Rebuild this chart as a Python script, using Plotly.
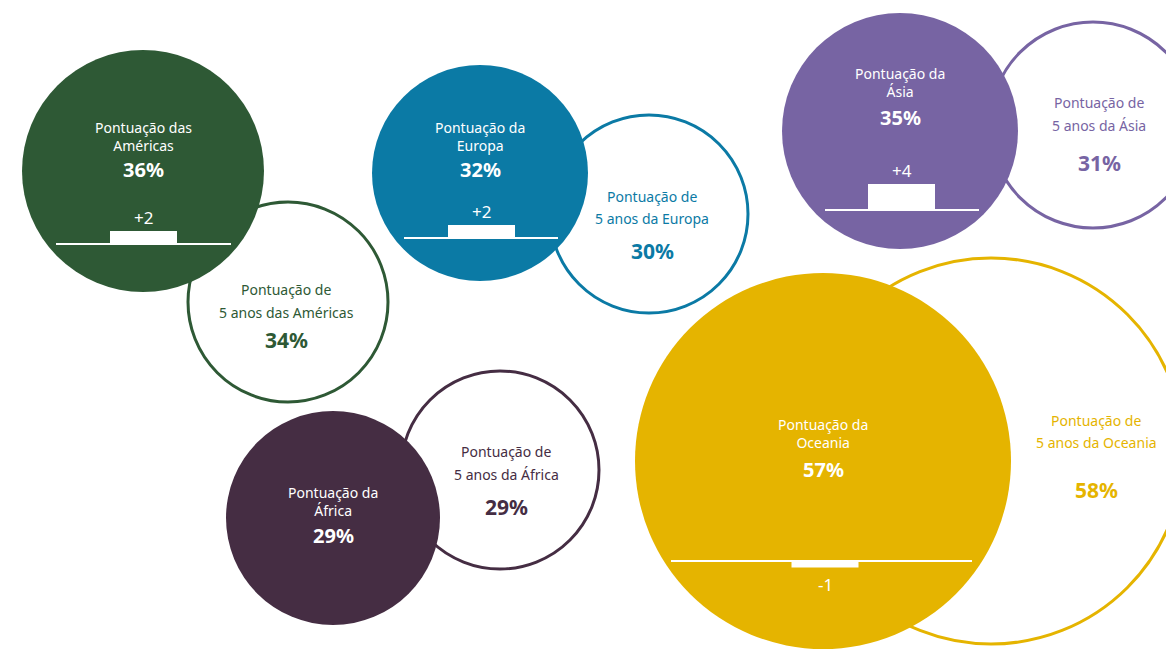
import plotly.graph_objects as go

# ---- data ----
regions = ["Américas", "Europa", "Ásia", "Oceania", "África"]
score_now = [36, 32, 35, 57, 29]
score_5y = [34, 30, 31, 58, 29]
label_now = ["Pontuação das<br>Américas", "Pontuação da<br>Europa", "Pontuação da<br>Ásia",
             "Pontuação da<br>Oceania", "Pontuação da<br>África"]
label_5y = [["Pontuação de", "5 anos das Américas"], ["Pontuação de", "5 anos da Europa"],
            ["Pontuação de", "5 anos da Ásia"], ["Pontuação de", "5 anos da Oceania"],
            ["Pontuação de", "5 anos da África"]]
colors = ["#2e5935", "#0b7aa5", "#7764a3", "#e5b400", "#452d43"]

# ---- layout geometry (pixel space of the canvas) ----
W, H = 1166, 654
geom = {
    "Américas": dict(c=(143, 171), r=121, c5=(288, 302), r5=100, t=136, p=169.5,
                     tx=286, t5=(289, 312), p5=340, base=(56, 231, 244), bx=143.5),
    "Europa": dict(c=(480, 173), r=108, c5=(649, 214), r5=99, t=136, p=169.5,
                   tx=652, t5=(196, 218), p5=251, base=(404, 558, 238), bx=481.5),
    "Ásia": dict(c=(900, 131), r=118, c5=(1093, 125), r5=103, t=82.5, p=117,
                 tx=1099, t5=(102, 125), p5=163, base=(825, 979, 210), bx=901.5),
    "Oceania": dict(c=(823, 461), r=188, c5=(991, 451), r5=193, t=433, p=469,
                    tx=1096, t5=(420, 442), p5=490, base=(671, 972, 561), bx=825),
    "África": dict(c=(333, 518), r=107, c5=(500, 470), r5=99, t=501.5, p=535,
                   tx=506, t5=(451, 474), p5=507, base=None, bx=333),
}
PX_PER_POINT = 6.5
BAR_W = 67
FONT = "Noto Sans"

fig = go.Figure()
fig.add_trace(go.Scatter(x=[0, W], y=[0, H], mode="markers", marker=dict(opacity=0),
                         hoverinfo="skip", showlegend=False))

shapes = []
annotations = []

def ann(x, y, text, color, size, bold=False):
    annotations.append(dict(x=x, y=y, xref="x", yref="y", text=f"<b>{text}</b>" if bold else text,
                            showarrow=False, xanchor="center", yanchor="middle",
                            font=dict(family=FONT, size=size, color=color)))

# outline (5-year) circles first
for reg, col in zip(regions, colors):
    g = geom[reg]
    cx, cy = g["c5"]; r = g["r5"]
    shapes.append(dict(type="circle", xref="x", yref="y", x0=cx - r, x1=cx + r, y0=cy - r, y1=cy + r,
                       line=dict(color=col, width=3), fillcolor="white"))

# filled (current) circles
for reg, col in zip(regions, colors):
    g = geom[reg]
    cx, cy = g["c"]; r = g["r"]
    shapes.append(dict(type="circle", xref="x", yref="y", x0=cx - r, x1=cx + r, y0=cy - r, y1=cy + r,
                       line=dict(width=0), fillcolor=col))

# difference bars
for reg, now, old in zip(regions, score_now, score_5y):
    g = geom[reg]
    if g["base"] is None:
        continue
    x0, x1, by = g["base"]
    diff = now - old
    h = diff * PX_PER_POINT
    shapes.append(dict(type="rect", xref="x", yref="y", x0=g["bx"] - BAR_W / 2, x1=g["bx"] + BAR_W / 2,
                       y0=by - h, y1=by, line=dict(width=0), fillcolor="white"))
    shapes.append(dict(type="line", xref="x", yref="y", x0=x0, x1=x1, y0=by, y1=by,
                       line=dict(color="white", width=2)))
    lbl = f"+{diff}" if diff > 0 else f"{diff}"
    ly = by - h - 14 if diff > 0 else by - h + 17
    ann(g["bx"], ly, lbl, "white", 17)

# texts
for reg, col, now, old, ln, l5 in zip(regions, colors, score_now, score_5y, label_now, label_5y):
    g = geom[reg]
    cx = g["c"][0]
    ann(cx, g["t"], ln, "white", 14)
    ann(cx, g["p"], f"{now}%", "white", 20, bold=True)
    tx = g["tx"]
    ann(tx, g["t5"][0], l5[0], col, 14)
    ann(tx, g["t5"][1], l5[1], col, 14)
    ann(tx, g["p5"], f"{old}%", col, 21, bold=True)

fig.update_layout(
    width=W, height=H, margin=dict(l=0, r=0, t=0, b=0),
    paper_bgcolor="white", plot_bgcolor="white",
    xaxis=dict(range=[0, W], visible=False, fixedrange=True),
    yaxis=dict(range=[H, 0], visible=False, fixedrange=True),
    shapes=shapes, annotations=annotations, showlegend=False,
)
fig.write_html("out.html", config={"displayModeBar": False},
               post_script="document.body.style.margin='0';document.body.style.overflow='hidden';")
